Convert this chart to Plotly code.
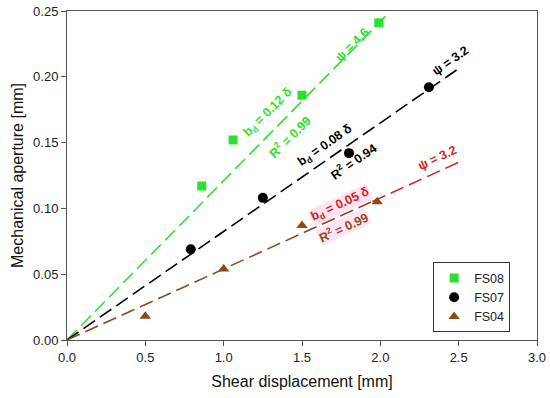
import plotly.graph_objects as go

# Data
fs08_x = [0.86, 1.06, 1.50, 1.99]
fs08_y = [0.117, 0.152, 0.186, 0.241]
fs07_x = [0.79, 1.25, 1.80, 2.31]
fs07_y = [0.069, 0.108, 0.142, 0.192]
fs04_x = [0.50, 1.00, 1.50, 1.98]
fs04_y = [0.018, 0.054, 0.087, 0.105]

# fitted lines (through origin)
fit08_x = [0.0, 2.04]
fit08_slope = 0.121
fit07_x = [0.0, 2.5]
fit07_slope = 0.0825
fit04_x = [0.0, 1.95]
fit04b_x = [1.95, 2.5]
fit04_slope = 0.054

GREEN = "#2ee02e"
BLACK = "#000000"
BROWN = "#8b4a1c"
RED = "#d42020"
FONT = "Liberation Sans, Arial, sans-serif"

fig = go.Figure()

def line(xs, slope, color, dash):
    fig.add_trace(go.Scatter(x=xs, y=[slope * v for v in xs], mode="lines",
                             line=dict(color=color, width=1.6, dash=dash),
                             showlegend=False, hoverinfo="skip"))

line(fit08_x, fit08_slope, GREEN, "14px,6px")
line(fit07_x, fit07_slope, BLACK, "14px,6px")
line(fit04_x, fit04_slope, BROWN, "14px,6px")
line(fit04b_x, fit04_slope, RED, "14px,6px")

fig.add_trace(go.Scatter(x=fs08_x, y=fs08_y, mode="markers", name="FS08",
                         marker=dict(symbol="square", size=9, color=GREEN)))
fig.add_trace(go.Scatter(x=fs07_x, y=fs07_y, mode="markers", name="FS07",
                         marker=dict(symbol="circle", size=10, color=BLACK)))
fig.add_trace(go.Scatter(x=fs04_x, y=fs04_y, mode="markers", name="FS04",
                         marker=dict(symbol="triangle-up", size=10, color=BROWN)))

ann = [
    ("ψ = 4.6", 1.82, 0.224, -45, GREEN, None),
    ("b<sub>d</sub> = 0.12 δ", 1.283, 0.1725, -45, GREEN, None),
    ("R<sup>2</sup> = 0.99", 1.423, 0.155, -45, GREEN, None),
    ("ψ = 3.2", 2.445, 0.212, -35, BLACK, None),
    ("b<sub>d</sub> = 0.08 δ", 1.647, 0.1474, -35, BLACK, None),
    ("R<sup>2</sup> = 0.94", 1.826, 0.136, -35, BLACK, None),
    ("ψ = 3.2", 2.362, 0.138, -25, RED, None),
    ("b<sub>d</sub> = 0.05 δ", 1.743, 0.1026, -25, RED, "rgba(255,215,240,0.7)"),
    ("R<sup>2</sup> = 0.99", 1.762, 0.0859, -25, BROWN, "rgba(255,215,240,0.7)"),
]
for t, x, y, a, c, bg in ann:
    fig.add_annotation(x=x, y=y, text="<b>" + t + "</b>", showarrow=False,
                       textangle=a, font=dict(family=FONT, size=12.5, color=c),
                       bgcolor=bg if bg else "rgba(0,0,0,0)", borderpad=0)

axis_common = dict(showline=True, linecolor="#555555", linewidth=1, mirror=True,
                   ticks="outside", ticklen=5, tickcolor="#555555", showgrid=False,
                   zeroline=False, automargin=False,
                   tickfont=dict(family=FONT, size=13, color="#222"),
                   title_font=dict(family=FONT, size=16, color="#111"))

fig.update_xaxes(range=[0, 3.0], dtick=0.5, tickformat=".1f",
                 title_text="Shear displacement [mm]", title_standoff=12, **axis_common)
fig.update_yaxes(range=[0, 0.25], dtick=0.05, tickformat=".2f",
                 title_text="Mechanical aperture [mm]", title_standoff=5, **axis_common)

fig.update_layout(
    width=550, height=398,
    margin=dict(l=67, r=13, t=11, b=58),
    plot_bgcolor="white", paper_bgcolor="white",
    showlegend=True,
    legend=dict(x=0.779, y=0.236, xanchor="left", yanchor="top",
                bordercolor="#333", borderwidth=1, bgcolor="white",
                font=dict(family=FONT, size=12.5, color="#222"),
                itemwidth=30, tracegroupgap=0),
)

fig.write_html("out.html", config={"displayModeBar": False},
               post_script="document.body.style.margin='0px';")
